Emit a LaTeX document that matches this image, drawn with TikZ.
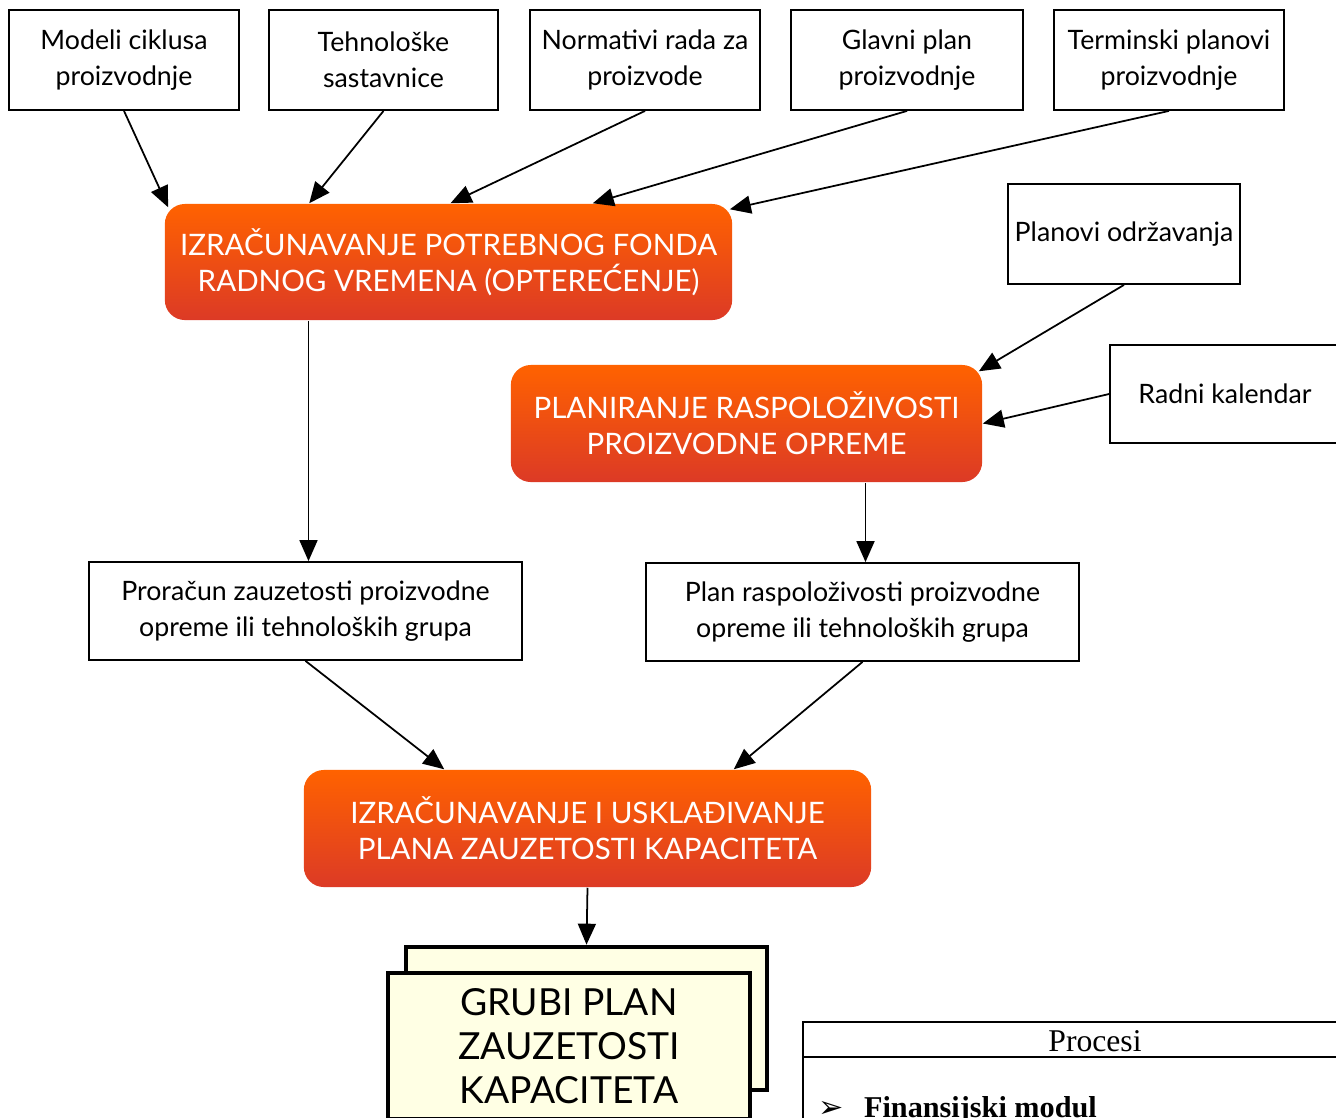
\documentclass[tikz,border=0pt]{standalone}
\usepackage{fontspec}
\setmainfont{Lato}
\newfontfamily\serifproc{Liberation Serif}
\newfontfamily\symfont{DejaVu Sans}
\usetikzlibrary{arrows.meta,calc}
\tikzset{
  inbox/.style={draw=black, line width=0.5pt, fill=white, align=center,
    font=\fontsize{7.6}{10.2}\selectfont, minimum width=2.3cm, minimum height=1.0cm, inner sep=0pt},
  procbox/.style={rounded corners=0.2cm, top color=procTop, bottom color=procBot, draw=none,
    text=white, align=center, font=\fontsize{8.4}{10.3}\selectfont, inner sep=0pt},
  arr/.style={draw=black, line width=0.5pt, -{Triangle[length=0.21cm,width=0.18cm]}},
  docbox/.style={draw=black, line width=1.3pt, fill=docYellow, inner sep=0pt}
}
\definecolor{procTop}{HTML}{FF6200}
\definecolor{procBot}{HTML}{DC3A26}
\definecolor{docYellow}{HTML}{FFFFE4}
\begin{document}
\begin{tikzpicture}[x=0.01cm,y=-0.01cm]
\useasboundingbox (0,0) rectangle (1336,1117);

% top inputs
\node[inbox] (modeli) at (124,60) {Modeli ciklusa\\proizvodnje};
\node[inbox, minimum width=2.29cm] (tehno) at (383.5,60) {Tehnološke\\sastavnice};
\node[inbox] (normativi) at (645,60) {Normativi rada za\\proizvode};
\node[inbox, minimum width=2.32cm] (glavni) at (907,60) {Glavni plan\\proizvodnje};
\node[inbox] (terminski) at (1169,60) {Terminski planovi\\proizvodnje};

% right inputs
\node[inbox, minimum width=2.32cm] (planovi) at (1124,234) {Planovi održavanja};
\node[inbox, minimum width=2.3cm, minimum height=0.98cm] (radni) at (1225,394) {Radni kalendar};

% process boxes
\node[procbox, minimum width=5.67cm, minimum height=1.16cm] (calc1) at (448.5,262) {IZRAČUNAVANJE POTREBNOG FONDA\\RADNOG VREMENA (OPTEREĆENJE)};
\node[procbox, minimum width=4.71cm, minimum height=1.17cm] (plan2) at (746.5,423.5) {PLANIRANJE RASPOLOŽIVOSTI\\PROIZVODNE OPREME};
\node[procbox, minimum width=5.67cm, minimum height=1.17cm] (uskl) at (587.5,828.5) {IZRAČUNAVANJE I USKLAĐIVANJE\\PLANA ZAUZETOSTI KAPACITETA};

% intermediate results
\node[inbox, minimum width=4.33cm, minimum height=0.98cm] (proracun) at (305.5,611) {Proračun zauzetosti proizvodne\\opreme ili tehnoloških grupa};
\node[inbox, minimum width=4.33cm, minimum height=0.98cm] (planrasp) at (862.5,612) {Plan raspoloživosti proizvodne\\opreme ili tehnoloških grupa};

% document
\node[docbox, minimum width=3.61cm, minimum height=1.43cm] (grubiback) at (586.5,1018.5) {};
\node[docbox, minimum width=3.62cm, minimum height=1.46cm, align=center,
  font=\fontsize{10.6}{12.5}\selectfont] (grubi) at (569,1046) {GRUBI PLAN\\ZAUZETOSTI\\KAPACITETA};

% Procesi panel (cut off at the page edge, as in the reference)
\draw[line width=0.6pt] (803,1135) -- (803,1022) -- (1345,1022);
\draw[line width=0.6pt] (803,1057) -- (1345,1057);
\node[font=\serifproc\fontsize{9}{11}\selectfont] (procesi) at (1095,1041) {Procesi};
\node[anchor=west, font=\fontsize{8.6}{12}\selectfont, inner sep=0pt] (finmod) at (818,1110)
  {{\symfont ➢}\hspace{0.2cm}{\serifproc\bfseries Finansijski modul}};

% connectors
\draw[arr] (modeli.south) -- ([xshift=0.04cm,yshift=-0.04cm]calc1.north west);
\draw[arr] (tehno.south) -- ([xshift=1.45cm]calc1.north west);
\draw[arr] (normativi.south) -- ([xshift=0.02cm]calc1.north);
\draw[arr] (glavni.south) -- ([xshift=-1.4cm]calc1.north east);
\draw[arr] (terminski.south) -- ([xshift=-0.03cm,yshift=-0.06cm]calc1.north east);
\draw[arr] (planovi.south) -- ([xshift=-0.04cm,yshift=-0.07cm]plan2.north east);
\draw[arr] (radni.west) -- (plan2.east);
\draw[arr] ([xshift=0.03cm]proracun.north |- calc1.south) -- ([xshift=0.03cm]proracun.north);
\draw[arr] ([xshift=0.03cm]planrasp.north |- plan2.south) -- ([xshift=0.03cm]planrasp.north);
\draw[arr] (proracun.south) -- ([xshift=1.41cm]uskl.north west);
\draw[arr] (planrasp.south) -- ([xshift=-1.38cm]uskl.north east);
\draw[arr] (uskl.south) -- (grubiback.north);
\end{tikzpicture}
\end{document}
